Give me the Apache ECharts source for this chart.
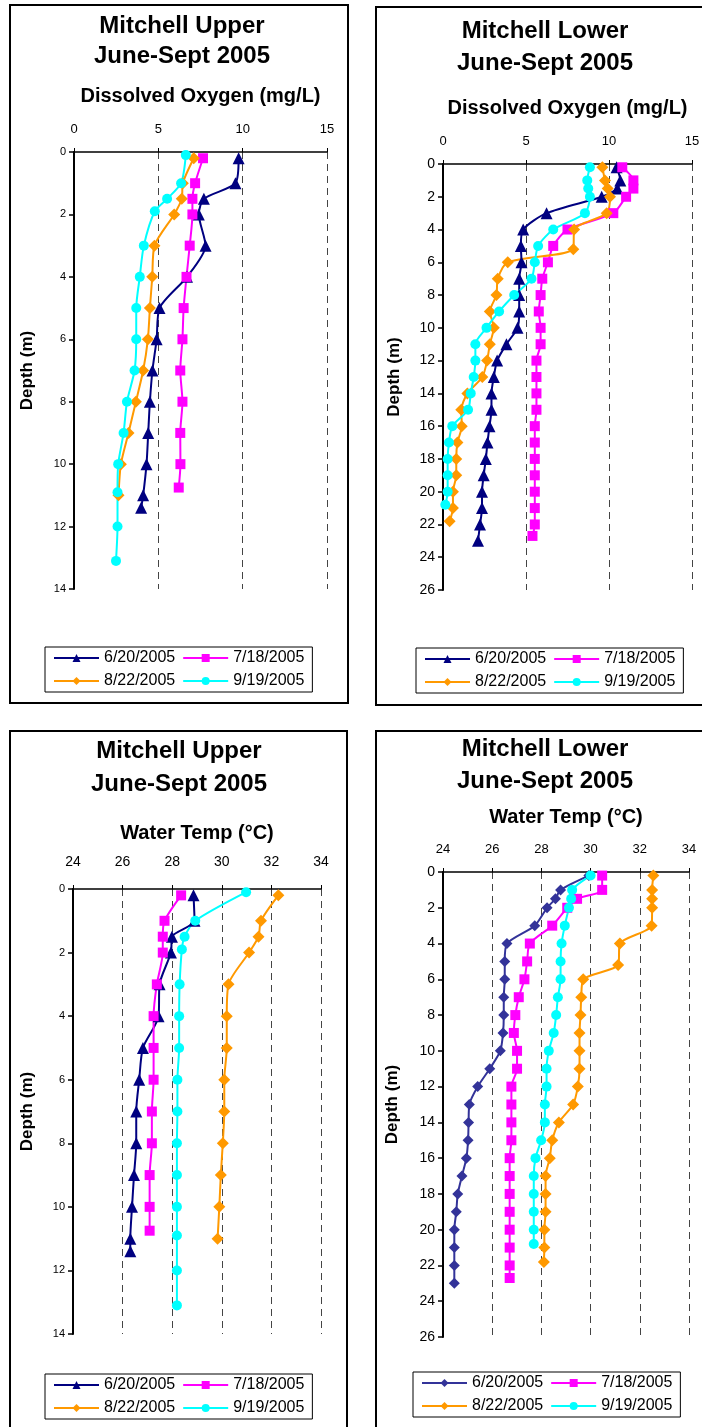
<!DOCTYPE html>
<html>
<head>
<meta charset="utf-8">
<title>Mitchell June-Sept 2005</title>
<script src="https://cdn.jsdelivr.net/npm/echarts@6/dist/echarts.min.js"></script>
<style>
  html, body { margin: 0; padding: 0; background: #fff; }
  #main { width: 702px; height: 1427px; }
</style>
</head>
<body>
<div id="main"></div>
<script>
/**
 * =================================
 *      数据  (深度 m / 读数)
 * =================================
 */
var dates = ['6/20/2005', '7/18/2005', '8/22/2005', '9/19/2005'];

// Mitchell Upper - depths
var upperDepth0620 = [0.2, 1, 1.5, 2, 3, 4, 5, 6, 7, 8, 9, 10, 11, 11.4];
var upperDepth0718 = [0.2, 1, 1.5, 2, 3, 4, 5, 6, 7, 8, 9, 10, 10.75];
var upperDepth0822 = [0.2, 1, 1.5, 2, 3, 4, 5, 6, 7, 8, 9, 10, 11];
var upperDepth0919 = [0.1, 1, 1.5, 1.9, 3, 4, 5, 6, 7, 8, 9, 10, 10.9, 12, 13.1];

// Mitchell Upper - dissolved oxygen (mg/L)
var upperDO0620 = [9.76, 9.57, 7.7, 7.4, 7.8, 6.7, 5.07, 4.9, 4.65, 4.5, 4.4, 4.3, 4.1, 3.98];
var upperDO0718 = [7.65, 7.18, 7.02, 7.02, 6.86, 6.67, 6.5, 6.43, 6.3, 6.43, 6.3, 6.31, 6.21];
var upperDO0822 = [7.1, 6.45, 6.39, 5.94, 4.77, 4.64, 4.5, 4.38, 4.1, 3.67, 3.23, 2.78, 2.64];
var upperDO0919 = [6.63, 6.35, 5.52, 4.79, 4.14, 3.9, 3.69, 3.69, 3.59, 3.14, 2.94, 2.62, 2.58, 2.58, 2.49];

// Mitchell Upper - water temp (°C)
var upperTemp0620 = [28.86, 28.9, 27.99, 27.95, 27.49, 27.45, 26.82, 26.67, 26.55, 26.55, 26.46, 26.38, 26.31, 26.31];
var upperTemp0718 = [28.36, 27.69, 27.62, 27.62, 27.38, 27.25, 27.25, 27.25, 27.18, 27.18, 27.09, 27.09, 27.09];
var upperTemp0822 = [32.28, 31.58, 31.48, 31.1, 30.27, 30.2, 30.2, 30.1, 30.1, 30.04, 29.96, 29.9, 29.83];
var upperTemp0919 = [30.98, 28.93, 28.5, 28.39, 28.3, 28.28, 28.28, 28.21, 28.21, 28.19, 28.19, 28.19, 28.19, 28.19, 28.19];

// Mitchell Lower - depths
var lowerDepth0620 = [0.2, 1, 1.5, 2, 3, 4, 5, 6, 7, 8, 9, 10, 11, 12, 13, 14, 15, 16, 17, 18, 19, 20, 21, 22, 23];
var lowerDepth0718 = [0.2, 1, 1.5, 2, 3, 4, 5, 6, 7, 8, 9, 10, 11, 12, 13, 14, 15, 16, 17, 18, 19, 20, 21, 22, 22.7];
var lowerDepth0822 = [0.2, 1, 1.5, 2, 3, 4, 5.2, 6, 7, 8, 9, 10, 11, 12, 13, 14, 15, 16, 17, 18, 19, 20, 21, 21.8];
var lowerDepth0919 = [0.2, 1, 1.5, 2, 3, 4, 5, 6, 7, 8, 9, 10, 11, 12, 13, 14, 15, 16, 17, 18, 19, 20, 20.8];

// Mitchell Lower - dissolved oxygen (mg/L)
var lowerDO0620 = [10.46, 10.68, 10.5, 9.56, 6.24, 4.83, 4.69, 4.73, 4.59, 4.59, 4.59, 4.49, 3.82, 3.26, 3.06, 2.92, 2.92, 2.8, 2.68, 2.58, 2.45, 2.35, 2.35, 2.23, 2.11];
var lowerDO0718 = [10.8, 11.47, 11.47, 11.03, 10.26, 7.5, 6.64, 6.32, 5.98, 5.88, 5.77, 5.88, 5.88, 5.63, 5.63, 5.63, 5.63, 5.53, 5.53, 5.53, 5.53, 5.53, 5.53, 5.53, 5.39];
var lowerDO0822 = [9.6, 9.76, 9.92, 10.06, 9.86, 7.9, 7.85, 3.9, 3.3, 3.22, 2.82, 3.06, 2.82, 2.66, 2.37, 1.47, 1.1, 1.13, 0.87, 0.8, 0.8, 0.6, 0.6, 0.4];
var lowerDO0919 = [8.85, 8.69, 8.75, 8.85, 8.55, 6.64, 5.73, 5.53, 5.33, 4.29, 3.38, 2.62, 1.95, 1.95, 1.85, 1.67, 1.51, 0.56, 0.36, 0.28, 0.28, 0.28, 0.14];

// Mitchell Lower - water temp (°C)
var lowerTemp0620 = [29.93, 28.78, 28.57, 28.23, 27.73, 26.6, 26.51, 26.51, 26.47, 26.47, 26.44, 26.33, 25.9, 25.41, 25.07, 25.04, 25.02, 24.95, 24.77, 24.6, 24.54, 24.46, 24.46, 24.46, 24.46];
var lowerTemp0718 = [30.47, 30.47, 29.45, 29.05, 28.44, 27.53, 27.42, 27.31, 27.08, 26.94, 26.88, 27.01, 27.01, 26.78, 26.78, 26.78, 26.78, 26.71, 26.71, 26.71, 26.71, 26.71, 26.71, 26.71, 26.71];
var lowerTemp0822 = [32.55, 32.5, 32.5, 32.5, 32.48, 31.19, 31.12, 29.7, 29.62, 29.59, 29.55, 29.55, 29.55, 29.48, 29.29, 28.71, 28.44, 28.34, 28.17, 28.17, 28.17, 28.12, 28.12, 28.1];
var lowerTemp0919 = [30.0, 29.25, 29.21, 29.12, 28.95, 28.82, 28.78, 28.78, 28.67, 28.6, 28.5, 28.3, 28.21, 28.21, 28.14, 28.14, 27.99, 27.76, 27.69, 27.69, 27.69, 27.69, 27.69];

/**
 * =================================
 *      样式 / 布局
 * =================================
 */
var FONT = '"Liberation Sans", Arial, sans-serif';
var NAVY = '#000080', MAGENTA = '#FF00FF', ORANGE = '#FF9900', CYAN = '#00FFFF', SLATE = '#333399';

var markStyles = [
  { symbol: 'triangle', size: 12, color: NAVY },
  { symbol: 'rect',     size: 10, color: MAGENTA },
  { symbol: 'diamond',  size: 12, color: ORANGE },
  { symbol: 'circle',   size: 10, color: CYAN }
];

var panels = [
  {
    title: ['Mitchell Upper', 'June-Sept 2005'], titleX: 182, titleY: [26, 56],
    box: [10, 5, 338, 698],
    xName: 'Dissolved Oxygen (mg/L)', xMin: 0, xMax: 15, xStep: 5, yMax: 14,
    grid: { left: 74, top: 152, width: 253, height: 437 },
    xNameGap: 46, xLabelMargin: 16, xLabelSize: 13, yLabelSize: 11, yNameGap: 38,
    legendPos: [45, 647],
    depths: [upperDepth0620, upperDepth0718, upperDepth0822, upperDepth0919],
    values: [upperDO0620, upperDO0718, upperDO0822, upperDO0919]
  },
  {
    title: ['Mitchell Lower', 'June-Sept 2005'], titleX: 545, titleY: [31, 63],
    box: [376, 7, 340, 698],
    xName: 'Dissolved Oxygen (mg/L)', xMin: 0, xMax: 15, xStep: 5, yMax: 26,
    grid: { left: 443, top: 164, width: 249, height: 426 },
    xNameGap: 46, xLabelMargin: 16, xLabelSize: 13, yLabelSize: 14, yNameGap: 40,
    legendPos: [416, 648],
    depths: [lowerDepth0620, lowerDepth0718, lowerDepth0822, lowerDepth0919],
    values: [lowerDO0620, lowerDO0718, lowerDO0822, lowerDO0919]
  },
  {
    title: ['Mitchell Upper', 'June-Sept 2005'], titleX: 179, titleY: [751, 784],
    box: [10, 731, 337, 720],
    xName: 'Water Temp (°C)', xMin: 24, xMax: 34, xStep: 2, yMax: 14,
    grid: { left: 73, top: 889, width: 248, height: 445 },
    xNameGap: 46, xLabelMargin: 20, xLabelSize: 14, yLabelSize: 11, yNameGap: 37,
    legendPos: [45, 1374],
    depths: [upperDepth0620, upperDepth0718, upperDepth0822, upperDepth0919],
    values: [upperTemp0620, upperTemp0718, upperTemp0822, upperTemp0919]
  },
  {
    title: ['Mitchell Lower', 'June-Sept 2005'], titleX: 545, titleY: [749, 781],
    box: [376, 731, 340, 720],
    xName: 'Water Temp (°C)', xMin: 24, xMax: 34, xStep: 2, yMax: 26,
    grid: { left: 443, top: 872, width: 246, height: 465 },
    xNameGap: 45, xLabelMargin: 16, xLabelSize: 13, yLabelSize: 14, yNameGap: 42,
    legendPos: [413, 1372],
    lowerNavy: true,
    depths: [lowerDepth0620, lowerDepth0718, lowerDepth0822, lowerDepth0919],
    values: [lowerTemp0620, lowerTemp0718, lowerTemp0822, lowerTemp0919]
  }
];

/**
 * 数值与深度配对成 [x, y]
 */
function pairUp(values, depths) {
  var out = [];
  for (var i = 0; i < values.length; i++) out.push([values[i], depths[i]]);
  return out;
}

/**
 * =================================
 *      构造 option
 * =================================
 */
var option = {
  animation: false,
  backgroundColor: '#fff',
  textStyle: { fontFamily: FONT },
  grid: [], xAxis: [], yAxis: [], legend: [], series: [], graphic: []
};

panels.forEach(function (p, k) {
  // 外框 + 标题
  option.graphic.push({
    type: 'rect', silent: true, z: -1,
    shape: { x: p.box[0], y: p.box[1], width: p.box[2], height: p.box[3] },
    style: { fill: 'none', stroke: '#000', lineWidth: 2 }
  });
  p.title.forEach(function (t, j) {
    option.graphic.push({
      type: 'text', silent: true, x: p.titleX, y: p.titleY[j],
      style: { text: t, font: 'bold 24px ' + FONT, fill: '#000', align: 'center', verticalAlign: 'middle' }
    });
  });

  option.grid.push({
    left: p.grid.left, top: p.grid.top, width: p.grid.width, height: p.grid.height,
    outerBoundsMode: 'none', containLabel: false
  });

  option.xAxis.push({
    type: 'value', gridIndex: k, position: 'top',
    min: p.xMin, max: p.xMax, interval: p.xStep,
    name: p.xName, nameLocation: 'middle', nameGap: p.xNameGap,
    nameTextStyle: { fontSize: 20, fontWeight: 'bold', color: '#000', fontFamily: FONT },
    axisLine: { onZero: false, lineStyle: { color: '#000', width: 1.5 } },
    axisTick: { show: true, length: 4, lineStyle: { color: '#000' } },
    axisLabel: { fontSize: p.xLabelSize, color: '#000', margin: p.xLabelMargin, fontFamily: FONT },
    splitLine: { show: true, showMinLine: false, lineStyle: { color: '#444', type: [7, 5], width: 1 } }
  });

  option.yAxis.push({
    type: 'value', gridIndex: k, inverse: true,
    min: 0, max: p.yMax, interval: 2,
    name: 'Depth (m)', nameLocation: 'middle', nameGap: p.yNameGap,
    nameTextStyle: { fontSize: 17, fontWeight: 'bold', color: '#000', fontFamily: FONT },
    axisLine: { show: true, onZero: false, lineStyle: { color: '#000', width: 2 } },
    axisTick: { show: true, length: 5, lineStyle: { color: '#000', width: 1.5 } },
    axisLabel: { fontSize: p.yLabelSize, color: '#000', margin: 8, fontFamily: FONT },
    splitLine: { show: false }
  });

  var names = [];
  dates.forEach(function (d, i) {
    var st = markStyles[i];
    var sym = st.symbol, size = st.size, color = st.color;
    if (p.lowerNavy && i === 0) { sym = 'diamond'; size = 11; color = SLATE; }
    var name = 'p' + k + '|' + d;
    names.push(name);
    option.series.push({
      name: name, type: 'line', xAxisIndex: k, yAxisIndex: k,
      data: pairUp(p.values[i], p.depths[i]),
      symbol: sym, symbolSize: size, showAllSymbol: true,
      smooth: 0.25,
      lineStyle: { color: color, width: 2 },
      itemStyle: { color: color },
      emphasis: { disabled: true }
    });
  });

  option.legend.push({
    left: p.legendPos[0], top: p.legendPos[1], width: 256,
    orient: 'horizontal', data: names,
    formatter: function (n) { return n.split('|')[1]; },
    itemWidth: 45, itemHeight: 10, itemGap: 7,
    padding: [3, 8, 3, 8],
    borderColor: '#000', borderWidth: 1, backgroundColor: '#fff',
    selectedMode: false,
    textStyle: { fontSize: 16, color: '#000', fontFamily: FONT }
  });
});

var myChart = echarts.init(document.getElementById('main'), null, { renderer: 'canvas' });
myChart.setOption(option);
</script>
</body>
</html>
